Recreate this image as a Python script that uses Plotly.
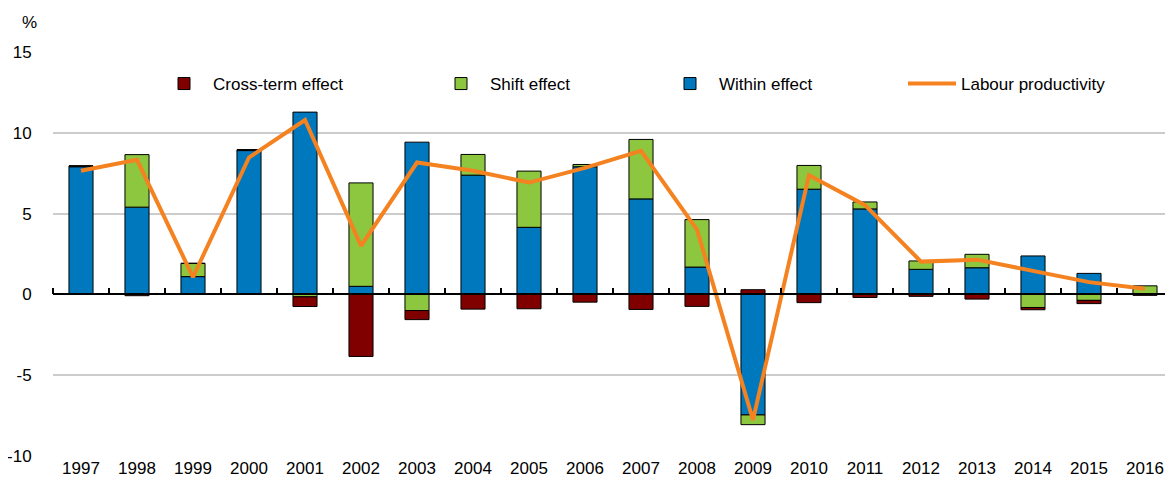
import plotly.graph_objects as go

years = [str(y) for y in range(1997, 2017)]

within_effect = [7.9, 5.4, 1.1, 8.9, 11.28, 0.5, 9.42, 7.38, 4.15, 7.9,
                 5.91, 1.69, -7.46, 6.51, 5.29, 1.55, 1.65, 2.38, 1.3, 0.03]
shift_effect = [0.05, 3.25, 0.82, 0.05, -0.15, 6.4, -1.0, 1.28, 3.48, 0.14,
                3.68, 2.94, -0.6, 1.47, 0.43, 0.52, 0.83, -0.81, -0.37, 0.5]
cross_term_effect = [0.0, -0.08, 0.0, 0.0, -0.6, -3.84, -0.56, -0.91, -0.89, -0.48,
                     -0.93, -0.74, 0.29, -0.51, -0.19, -0.12, -0.29, -0.14, -0.2, -0.06]
labour_productivity = [7.65, 8.33, 1.07, 8.47, 10.79, 3.0, 8.16, 7.65, 6.92, 7.83,
                       8.88, 4.01, -7.77, 7.38, 5.52, 2.03, 2.15, 1.43, 0.76, 0.35]

FONT = "Liberation Sans, Arial"
FS = 17
OFF = 8  # page body margin of the html
W, H = 1173 - OFF, 483 - OFF
L, R, T, B = 53 - OFF, 0, 52 - OFF, 27
PW, PH = W - L - R, H - T - B


def px_x(p):
    # reference pixel column -> paper x
    return (p - OFF - L) / PW


def px_y(p):
    # reference pixel row -> paper y
    return 1 - (p - OFF - T) / PH


fig = go.Figure()

bar_specs = [
    (within_effect, "Within effect", "#0078BE", "legend3"),
    (shift_effect, "Shift effect", "#8DC63F", "legend2"),
    (cross_term_effect, "Cross-term effect", "#800000", "legend"),
]
for vals, name, color, leg in bar_specs:
    fig.add_trace(go.Bar(
        x=years, y=vals, name=name, legend=leg,
        marker=dict(color=color, line=dict(color="black", width=1)),
        width=0.43,
    ))

fig.add_trace(go.Scatter(
    x=years, y=labour_productivity, name="Labour productivity", legend="legend4",
    mode="lines", line=dict(color="#F58220", width=4),
))

# overlay axis used only for the zero line with boundary ticks
fig.add_trace(go.Scatter(
    x=years, y=labour_productivity, xaxis="x2", mode="lines",
    opacity=0, showlegend=False, hoverinfo="skip",
))

leg_common = dict(orientation="h", yanchor="middle", y=px_y(84), xanchor="left",
                  bgcolor="rgba(0,0,0,0)", font=dict(family=FONT, size=FS, color="black"),
                  itemwidth=48)
fig.update_layout(
    width=W, height=H,
    template="none",
    barmode="relative",
    plot_bgcolor="white", paper_bgcolor="white",
    margin=dict(l=L, r=R, t=T, b=B),
    font=dict(family=FONT, size=FS, color="black"),
    showlegend=True,
    legend=dict(leg_common, x=px_x(155)),
    legend2=dict(leg_common, x=px_x(432)),
    legend3=dict(leg_common, x=px_x(661)),
    legend4=dict(leg_common, x=px_x(903)),
    xaxis=dict(type="category", categoryarray=years, range=[-0.5, 19.5],
               showgrid=False, zeroline=False, showline=False, ticks="",
               tickfont=dict(family=FONT, size=FS), automargin=False),
    xaxis2=dict(type="category", categoryarray=years, range=[-0.5, 19.5],
                overlaying="x", anchor="free", position=0.4, side="top",
                showline=True, linecolor="black", linewidth=1.5,
                ticks="outside", ticklen=6, tickcolor="black", tickwidth=1.5,
                tickson="boundaries", showticklabels=False, showgrid=False,
                zeroline=False, automargin=False),
    yaxis=dict(range=[-10, 15], tickvals=[-10, -5, 0, 5, 10, 15],
               ticktext=["-10", "-5", "0", "5", "10", "15"],
               showgrid=True, gridcolor="#CCCCCC", gridwidth=1.5,
               zeroline=False, showline=False,
               ticks="outside", ticklen=17, tickcolor="rgba(0,0,0,0)",
               tickfont=dict(family=FONT, size=FS), automargin=False),
    annotations=[dict(text="%", xref="paper", yref="paper",
                      x=px_x(29), y=px_y(23),
                      xanchor="center", yanchor="middle", showarrow=False,
                      font=dict(family=FONT, size=FS, color="black"))],
)

fig.write_html("out.html")
